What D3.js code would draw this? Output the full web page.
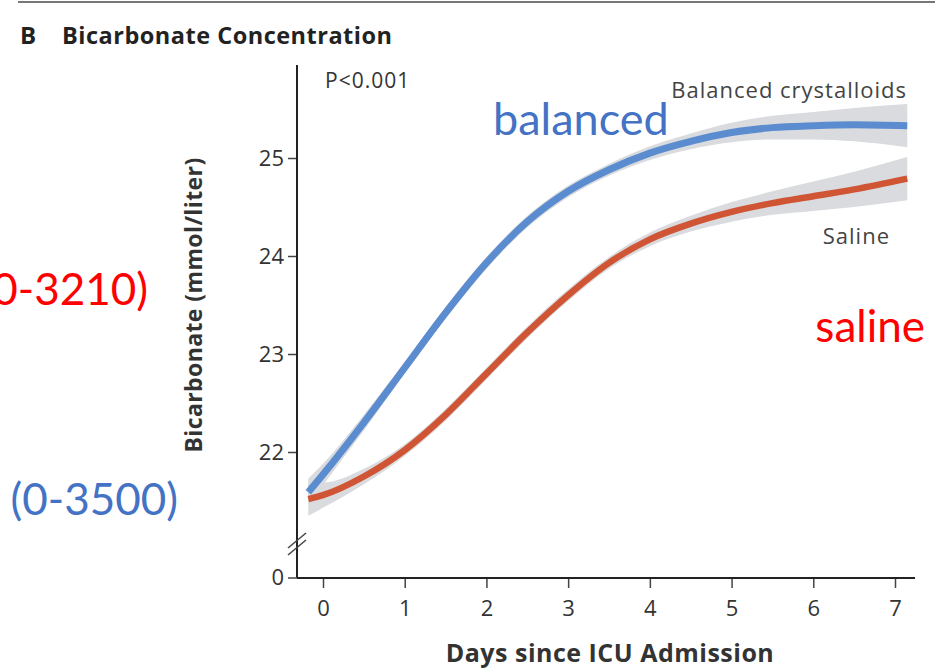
<!DOCTYPE html>
<html>
<head>
<meta charset="utf-8">
<script src="https://cdn.jsdelivr.net/npm/d3@7"></script>
<style>
body { margin: 0; background: #fff; }
svg { display: block; }
</style>
</head>
<body>
<svg id="chart" width="935" height="670"></svg>
<script>
// days since ICU admission (curve sample points)
var days = [-0.18, 0, 0.5, 1, 1.5, 2, 2.5, 3, 3.5, 4, 4.5, 5, 5.5, 6, 6.5, 7.15];
var balanced = [21.59, 21.77, 22.3, 22.86, 23.42, 23.93, 24.35, 24.66, 24.88, 25.05, 25.17, 25.26, 25.31, 25.33, 25.34, 25.33];
var saline = [21.52, 21.56, 21.75, 22.02, 22.38, 22.8, 23.22, 23.6, 23.93, 24.17, 24.33, 24.45, 24.54, 24.61, 24.68, 24.79];
// half width of the grey confidence band
var balancedCI = [0.14, 0.11, 0.08, 0.06, 0.06, 0.06, 0.06, 0.06, 0.06, 0.07, 0.08, 0.1, 0.12, 0.14, 0.17, 0.22];
var salineCI = [0.17, 0.13, 0.08, 0.06, 0.06, 0.06, 0.06, 0.06, 0.06, 0.07, 0.08, 0.1, 0.12, 0.15, 0.18, 0.22];
var xTicks = [0, 1, 2, 3, 4, 5, 6, 7];
var yTicks = [22, 23, 24, 25];

var svg = d3.select("#chart");
var font = "'Open Sans', 'Noto Sans', sans-serif";

var x = d3.scaleLinear().domain([0, 7]).range([323, 895]);
var y = d3.scaleLinear().domain([21, 26]).range([550, 60]);
var axisY0 = 578; // where the broken axis puts zero

// header rule + title
svg.append("line").attr("x1", 18).attr("x2", 935).attr("y1", 2).attr("y2", 2)
  .attr("stroke", "#777").attr("stroke-width", 2);
svg.append("text").attr("x", 20).attr("y", 44).attr("font-family", font)
  .attr("font-weight", "bold").attr("font-size", 24).attr("fill", "#222").text("B");
svg.append("text").attr("x", 62).attr("y", 44).attr("font-family", font)
  .attr("font-weight", "bold").attr("font-size", 23.5).attr("letter-spacing", 0.5)
  .attr("fill", "#222").text("Bicarbonate Concentration");

// bands
var area = (vals, ci) => d3.area()
  .x((d, i) => x(days[i]))
  .y0((d, i) => y(vals[i] - ci[i]))
  .y1((d, i) => y(vals[i] + ci[i]))
  .curve(d3.curveMonotoneX)(vals);

var line = d3.line()
  .x((d, i) => x(days[i]))
  .y(d => y(d))
  .curve(d3.curveMonotoneX);

svg.append("path").attr("d", area(saline, salineCI)).attr("fill", "#d9dbde");
svg.append("path").attr("d", area(balanced, balancedCI)).attr("fill", "#d9dbde");

svg.append("path").attr("d", line(saline)).attr("fill", "none")
  .attr("stroke", "#cf5535").attr("stroke-width", 6.5);
svg.append("path").attr("d", line(balanced)).attr("fill", "none")
  .attr("stroke", "#5b8ccf").attr("stroke-width", 7);

// x axis
var xg = svg.append("g").attr("transform", `translate(0,${axisY0})`)
  .call(d3.axisBottom(x).tickValues(xTicks).tickFormat(d3.format("d"))
    .tickSize(10).tickPadding(12).tickSizeOuter(0));
xg.select(".domain").remove();
xg.append("line").attr("x1", 297).attr("x2", 915).attr("stroke", "#222").attr("stroke-width", 2);
xg.selectAll(".tick line").attr("stroke", "#444").attr("stroke-width", 1.5);
xg.selectAll(".tick text").attr("font-family", font).attr("font-size", 22).attr("fill", "#333");

// y axis
var yg = svg.append("g").attr("transform", "translate(297,0)")
  .call(d3.axisLeft(y).tickValues(yTicks).tickFormat(d3.format("d")).tickSize(9).tickPadding(4));
yg.select(".domain").remove();
yg.append("line").attr("y1", 65).attr("y2", axisY0).attr("stroke", "#222").attr("stroke-width", 2);
yg.selectAll(".tick line").attr("stroke", "#444").attr("stroke-width", 1.5);
yg.selectAll(".tick text").attr("font-family", font).attr("font-size", 22).attr("fill", "#333");
// zero tick below the break
yg.append("line").attr("x1", -9).attr("x2", 0).attr("y1", axisY0).attr("y2", axisY0)
  .attr("stroke", "#444").attr("stroke-width", 1.5);
yg.append("text").attr("x", -13).attr("y", axisY0).attr("dy", "0.32em").attr("text-anchor", "end")
  .attr("font-family", font).attr("font-size", 22).attr("fill", "#333").text("0");
// break marks
[0, 7].forEach(function(o) {
  yg.append("line").attr("x1", -9).attr("x2", 9).attr("y1", 548 + o).attr("y2", 533 + o)
    .attr("stroke", "#444").attr("stroke-width", 1.5);
});

// axis titles
svg.append("text").attr("transform", "translate(202,305) rotate(-90)").attr("text-anchor", "middle")
  .attr("font-family", font).attr("font-weight", "bold").attr("font-size", 23).attr("letter-spacing", 0.4)
  .attr("fill", "#333").text("Bicarbonate (mmol/liter)");
svg.append("text").attr("x", 610).attr("y", 662).attr("text-anchor", "middle")
  .attr("font-family", font).attr("font-weight", "bold").attr("font-size", 25).attr("letter-spacing", 0.5)
  .attr("fill", "#333").text("Days since ICU Admission");

// in-plot labels
svg.append("text").attr("x", 325).attr("y", 88).attr("font-family", font).attr("font-size", 21)
  .attr("letter-spacing", 1).attr("fill", "#333").text("P<0.001");
svg.append("text").attr("x", 907).attr("y", 98).attr("text-anchor", "end").attr("font-family", font)
  .attr("font-size", 22).attr("letter-spacing", 1).attr("fill", "#444").text("Balanced crystalloids");
svg.append("text").attr("x", 890).attr("y", 244).attr("text-anchor", "end").attr("font-family", font)
  .attr("font-size", 22).attr("letter-spacing", 1).attr("fill", "#444").text("Saline");

// overlaid annotations
var note = "Lato, 'Open Sans', sans-serif";
svg.append("text").attr("x", 493).attr("y", 135).attr("font-family", note).attr("font-size", 45)
  .attr("fill", "#4472c4").text("balanced");
svg.append("text").attr("x", 925).attr("y", 342).attr("text-anchor", "end").attr("font-family", note)
  .attr("font-size", 44).attr("fill", "#ff0000").text("saline");
svg.append("text").attr("x", 148).attr("y", 305).attr("text-anchor", "end").attr("font-family", note)
  .attr("font-size", 44).attr("fill", "#ff0000").text("(0-3210)");
svg.append("text").attr("x", 178).attr("y", 515).attr("text-anchor", "end").attr("font-family", note)
  .attr("font-size", 44).attr("fill", "#4472c4").text("(0-3500)");
</script>
</body>
</html>
